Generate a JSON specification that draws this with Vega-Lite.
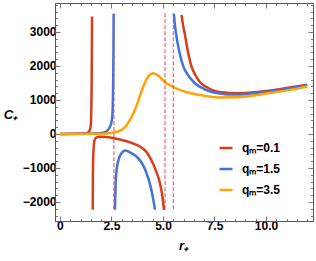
{
  "$schema": "https://vega.github.io/schema/vega-lite/v6.json",
  "autosize": "none",
  "width": 258,
  "height": 218,
  "padding": {"left": 55, "top": 3, "right": 3, "bottom": 40},
  "background": "white",
  "config": {
    "view": {"stroke": "#555555", "strokeWidth": 1},
    "font": "Liberation Sans",
    "axis": {"grid": false, "domainColor": "#555555", "tickColor": "#777777", "labelFont": "Liberation Sans", "labelFontWeight": "bold", "labelFontSize": 11, "labelColor": "#000000", "titleFont": "Liberation Sans", "titleFontWeight": "bold", "titleFontStyle": "italic", "titleFontSize": 13, "titleColor": "#000000"}
  },
  "datasets": {
    "curves": [
      {"q": "0.1", "seg": "a", "x": 0, "C": 0},
      {"q": "0.1", "seg": "a", "x": 0.5, "C": 2},
      {"q": "0.1", "seg": "a", "x": 1.0, "C": 8},
      {"q": "0.1", "seg": "a", "x": 1.2, "C": 15},
      {"q": "0.1", "seg": "a", "x": 1.3, "C": 25},
      {"q": "0.1", "seg": "a", "x": 1.37, "C": 40},
      {"q": "0.1", "seg": "a", "x": 1.42, "C": 80},
      {"q": "0.1", "seg": "a", "x": 1.46, "C": 130},
      {"q": "0.1", "seg": "a", "x": 1.49, "C": 230},
      {"q": "0.1", "seg": "a", "x": 1.51, "C": 400},
      {"q": "0.1", "seg": "a", "x": 1.525, "C": 800},
      {"q": "0.1", "seg": "a", "x": 1.537, "C": 1400},
      {"q": "0.1", "seg": "a", "x": 1.548, "C": 2300},
      {"q": "0.1", "seg": "a", "x": 1.556, "C": 3450},
      {"q": "0.1", "seg": "b", "x": 1.59, "C": -2230},
      {"q": "0.1", "seg": "b", "x": 1.6, "C": -1200},
      {"q": "0.1", "seg": "b", "x": 1.62, "C": -600},
      {"q": "0.1", "seg": "b", "x": 1.65, "C": -300},
      {"q": "0.1", "seg": "b", "x": 1.7, "C": -150},
      {"q": "0.1", "seg": "b", "x": 1.78, "C": -100},
      {"q": "0.1", "seg": "b", "x": 1.9, "C": -85},
      {"q": "0.1", "seg": "b", "x": 2.2, "C": -90},
      {"q": "0.1", "seg": "b", "x": 2.57, "C": -120},
      {"q": "0.1", "seg": "b", "x": 3.0, "C": -180},
      {"q": "0.1", "seg": "b", "x": 3.4, "C": -250},
      {"q": "0.1", "seg": "b", "x": 3.88, "C": -370},
      {"q": "0.1", "seg": "b", "x": 4.2, "C": -530},
      {"q": "0.1", "seg": "b", "x": 4.5, "C": -850},
      {"q": "0.1", "seg": "b", "x": 4.7, "C": -1150},
      {"q": "0.1", "seg": "b", "x": 4.85, "C": -1440},
      {"q": "0.1", "seg": "b", "x": 4.95, "C": -1750},
      {"q": "0.1", "seg": "b", "x": 5.05, "C": -2230},
      {"q": "0.1", "seg": "c", "x": 5.9, "C": 3500},
      {"q": "0.1", "seg": "c", "x": 5.96, "C": 3250},
      {"q": "0.1", "seg": "c", "x": 6.07, "C": 2900},
      {"q": "0.1", "seg": "c", "x": 6.2, "C": 2450},
      {"q": "0.1", "seg": "c", "x": 6.39, "C": 1970},
      {"q": "0.1", "seg": "c", "x": 6.6, "C": 1700},
      {"q": "0.1", "seg": "c", "x": 6.8, "C": 1520},
      {"q": "0.1", "seg": "c", "x": 7.2, "C": 1350},
      {"q": "0.1", "seg": "c", "x": 7.6, "C": 1250},
      {"q": "0.1", "seg": "c", "x": 8.0, "C": 1215},
      {"q": "0.1", "seg": "c", "x": 8.5, "C": 1200},
      {"q": "0.1", "seg": "c", "x": 9.0, "C": 1205},
      {"q": "0.1", "seg": "c", "x": 10.0, "C": 1260},
      {"q": "0.1", "seg": "c", "x": 11.0, "C": 1350},
      {"q": "0.1", "seg": "c", "x": 12.0, "C": 1450},
      {"q": "1.5", "seg": "a", "x": 0, "C": 0},
      {"q": "1.5", "seg": "a", "x": 1.0, "C": 3},
      {"q": "1.5", "seg": "a", "x": 1.6, "C": 10},
      {"q": "1.5", "seg": "a", "x": 2.0, "C": 25},
      {"q": "1.5", "seg": "a", "x": 2.18, "C": 50},
      {"q": "1.5", "seg": "a", "x": 2.3, "C": 100},
      {"q": "1.5", "seg": "a", "x": 2.43, "C": 215},
      {"q": "1.5", "seg": "a", "x": 2.5, "C": 350},
      {"q": "1.5", "seg": "a", "x": 2.54, "C": 510},
      {"q": "1.5", "seg": "a", "x": 2.565, "C": 900},
      {"q": "1.5", "seg": "a", "x": 2.585, "C": 1600},
      {"q": "1.5", "seg": "a", "x": 2.597, "C": 2500},
      {"q": "1.5", "seg": "a", "x": 2.605, "C": 3530},
      {"q": "1.5", "seg": "b", "x": 2.67, "C": -2230},
      {"q": "1.5", "seg": "b", "x": 2.7, "C": -1500},
      {"q": "1.5", "seg": "b", "x": 2.75, "C": -1060},
      {"q": "1.5", "seg": "b", "x": 2.85, "C": -750},
      {"q": "1.5", "seg": "b", "x": 3.0, "C": -560},
      {"q": "1.5", "seg": "b", "x": 3.16, "C": -490},
      {"q": "1.5", "seg": "b", "x": 3.4, "C": -540},
      {"q": "1.5", "seg": "b", "x": 3.72, "C": -670},
      {"q": "1.5", "seg": "b", "x": 4.0, "C": -880},
      {"q": "1.5", "seg": "b", "x": 4.2, "C": -1150},
      {"q": "1.5", "seg": "b", "x": 4.4, "C": -1550},
      {"q": "1.5", "seg": "b", "x": 4.52, "C": -1900},
      {"q": "1.5", "seg": "b", "x": 4.61, "C": -2230},
      {"q": "1.5", "seg": "c", "x": 5.53, "C": 3530},
      {"q": "1.5", "seg": "c", "x": 5.58, "C": 3200},
      {"q": "1.5", "seg": "c", "x": 5.63, "C": 2960},
      {"q": "1.5", "seg": "c", "x": 5.8, "C": 2400},
      {"q": "1.5", "seg": "c", "x": 5.99, "C": 1980},
      {"q": "1.5", "seg": "c", "x": 6.15, "C": 1790},
      {"q": "1.5", "seg": "c", "x": 6.55, "C": 1490},
      {"q": "1.5", "seg": "c", "x": 7.0, "C": 1320},
      {"q": "1.5", "seg": "c", "x": 7.6, "C": 1200},
      {"q": "1.5", "seg": "c", "x": 8.0, "C": 1170},
      {"q": "1.5", "seg": "c", "x": 8.5, "C": 1160},
      {"q": "1.5", "seg": "c", "x": 9.0, "C": 1170},
      {"q": "1.5", "seg": "c", "x": 10.0, "C": 1230},
      {"q": "1.5", "seg": "c", "x": 11.0, "C": 1320},
      {"q": "1.5", "seg": "c", "x": 12.0, "C": 1430},
      {"q": "3.5", "seg": "a", "x": 0, "C": 0},
      {"q": "3.5", "seg": "a", "x": 1.0, "C": 0},
      {"q": "3.5", "seg": "a", "x": 2.0, "C": 5},
      {"q": "3.5", "seg": "a", "x": 2.5, "C": 30},
      {"q": "3.5", "seg": "a", "x": 3.0, "C": 120},
      {"q": "3.5", "seg": "a", "x": 3.2, "C": 230},
      {"q": "3.5", "seg": "a", "x": 3.4, "C": 410},
      {"q": "3.5", "seg": "a", "x": 3.7, "C": 800},
      {"q": "3.5", "seg": "a", "x": 4.04, "C": 1390},
      {"q": "3.5", "seg": "a", "x": 4.3, "C": 1700},
      {"q": "3.5", "seg": "a", "x": 4.53, "C": 1785},
      {"q": "3.5", "seg": "a", "x": 4.8, "C": 1700},
      {"q": "3.5", "seg": "a", "x": 5.1, "C": 1520},
      {"q": "3.5", "seg": "a", "x": 5.5, "C": 1380},
      {"q": "3.5", "seg": "a", "x": 5.83, "C": 1290},
      {"q": "3.5", "seg": "a", "x": 6.15, "C": 1225},
      {"q": "3.5", "seg": "a", "x": 6.7, "C": 1150},
      {"q": "3.5", "seg": "a", "x": 7.28, "C": 1100},
      {"q": "3.5", "seg": "a", "x": 7.6, "C": 1075},
      {"q": "3.5", "seg": "a", "x": 8.5, "C": 1080},
      {"q": "3.5", "seg": "a", "x": 9.5, "C": 1140},
      {"q": "3.5", "seg": "a", "x": 10.5, "C": 1230},
      {"q": "3.5", "seg": "a", "x": 11.3, "C": 1310},
      {"q": "3.5", "seg": "a", "x": 12.0, "C": 1390}
    ],
    "asym": [
      {"x": 2.62, "y1": 3550, "y2": -2270},
      {"x": 5.1, "y1": 3550, "y2": -2270},
      {"x": 5.5, "y1": 3550, "y2": -2270}
    ]
  },
  "layer": [
    {
      "data": {"name": "curves"},
      "mark": {"type": "line", "strokeWidth": 2.5, "interpolate": "monotone", "clip": true},
      "encoding": {
        "x": {"field": "x", "type": "quantitative", "scale": {"domain": [-0.24, 12.28], "nice": false, "zero": false},
          "axis": {"orient": "bottom", "values": [0,0.5,1,1.5,2,2.5,3,3.5,4,4.5,5,5.5,6,6.5,7,7.5,8,8.5,9,9.5,10,10.5,11,11.5,12],
            "labelExpr": "datum.value % 2.5 == 0 ? (datum.value == 0 ? '0' : format(datum.value, '.1f')) : ''",
            "tickSize": {"condition": {"test": "datum.value % 2.5 == 0", "value": -5}, "value": -2.5},
            "labelPadding": 4, "labelFontSize": 12, "domain": true,
            "title": "r₊", "titleAngle": 0, "titleX": 128, "titleY": 24, "titleBaseline": "middle", "titleAlign": "center"}},
        "y": {"field": "C", "type": "quantitative", "scale": {"domain": [-2560, 3850], "nice": false, "zero": false},
          "axis": {"orient": "left", "values": [-2400,-2200,-2000,-1800,-1600,-1400,-1200,-1000,-800,-600,-400,-200,0,200,400,600,800,1000,1200,1400,1600,1800,2000,2200,2400,2600,2800,3000,3200,3400,3600,3800],
            "format": "d",
            "labelExpr": "datum.value % 1000 == 0 ? format(datum.value, 'd') : ''",
            "tickSize": {"condition": {"test": "datum.value % 1000 == 0", "value": -5}, "value": -2.5},
            "labelPadding": 4, "labelFontSize": 12,
            "title": "C₊", "titleAngle": 0, "titleX": -45, "titleY": 111, "titleBaseline": "middle", "titleAlign": "center"}},
        "color": {"field": "q", "type": "nominal",
          "scale": {"domain": ["0.1", "1.5", "3.5"], "range": ["#D63E1A", "#4174DB", "#FFA306"]},
          "legend": {"orient": "none", "legendX": 163, "legendY": 137, "title": null, "padding": 0,
            "symbolType": "stroke", "symbolSize": 169, "symbolStrokeWidth": 2.5,
            "labelExpr": "'qₘ=' + datum.label", "labelFontSize": 12, "labelFontWeight": "bold", "labelFont": "Liberation Sans",
            "labelOffset": 8, "rowPadding": 7}},
        "detail": {"field": "seg"}
      }
    },
    {
      "data": {"name": "asym"},
      "mark": {"type": "rule", "color": "#EE4444", "strokeWidth": 1, "strokeDash": [4, 2], "clip": true},
      "encoding": {
        "x": {"field": "x", "type": "quantitative",
          "axis": {"orient": "top", "values": [0,0.5,1,1.5,2,2.5,3,3.5,4,4.5,5,5.5,6,6.5,7,7.5,8,8.5,9,9.5,10,10.5,11,11.5,12], "labels": false, "title": null, "domain": false,
            "tickSize": {"condition": {"test": "datum.value % 2.5 == 0", "value": -5}, "value": -2.5}}},
        "y": {"field": "y1", "type": "quantitative",
          "axis": {"orient": "right", "values": [-2400,-2200,-2000,-1800,-1600,-1400,-1200,-1000,-800,-600,-400,-200,0,200,400,600,800,1000,1200,1400,1600,1800,2000,2200,2400,2600,2800,3000,3200,3400,3600,3800], "labels": false, "title": null, "domain": false,
            "tickSize": {"condition": {"test": "datum.value % 1000 == 0", "value": -5}, "value": -2.5}}},
        "y2": {"field": "y2"}
      }
    }
  ],
  "resolve": {"axis": {"x": "independent", "y": "independent"}}
}
